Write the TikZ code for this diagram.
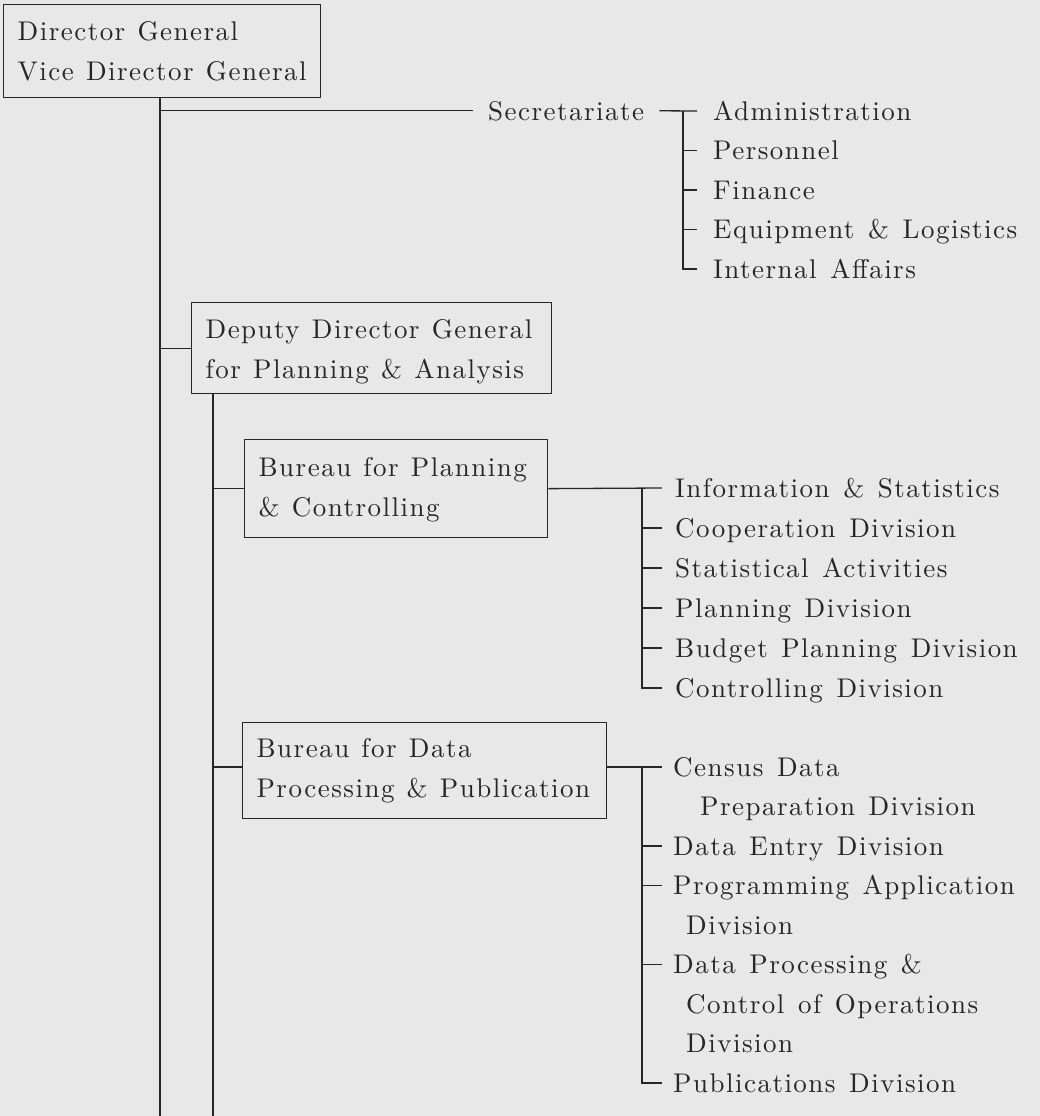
\documentclass[tikz,border=0pt]{standalone}
\usepackage{fontspec}
\setmainfont{lmroman10-regular.otf}[LetterSpace=5.5,WordSpace=1.3]
\definecolor{ink}{RGB}{38,38,38}
\definecolor{paper}{RGB}{232,232,232}
\tikzset{
  every node/.style={font=\fontsize{27}{40}\selectfont, text=ink},
  box/.style={draw=ink, line width=1.3pt, align=left, inner xsep=14pt, inner ysep=0pt, anchor=north west,
    execute at begin node={\spaceskip=12.2pt plus 2pt minus 1pt}},
  leaf/.style={anchor=base west, inner sep=0pt, align=left, font=\fontsize{27}{39.5}\selectfont},
  conn/.style={draw=ink, line width=1.3pt},
}
\begin{document}
\begin{tikzpicture}[x=1pt,y=-1pt]
\useasboundingbox (0,0) rectangle (1040,1116);
\fill[paper] (0,0) rectangle (1040,1116);

% boxes
\node[box, text width=289pt, minimum height=93pt] (dg) at (3,4) {\mbox{Director General}\\\mbox{Vice Director General}};
\node[box, text width=332pt, minimum height=91pt] (ddg) at (191,302) {\mbox{\rule{0pt}{26pt}Deputy Director General}\\\mbox{for Planning \& Analysis}};
\node[box, text width=275pt, minimum height=98pt] (b1) at (244,439) {\mbox{\rule{0pt}{22pt}Bureau for Planning}\\\mbox{\& Controlling}};
\node[box, text width=336pt, minimum height=96pt] (b2) at (242,722) {\mbox{Bureau for Data}\\\mbox{Processing \& Publication}};

% secretariate
\node[anchor=base west, inner xsep=15pt, inner ysep=0pt] (secr) at (473,120) {Secretariate};
\node[leaf] (adm) at (713,120) {Administration};
\node[leaf] (pers) at (713,159.5) {Personnel};
\node[leaf] (fin) at (713,199) {Finance};
\node[leaf] (equip) at (713,238.5) {Equipment \& Logistics};
\node[leaf] (intaff) at (713,278) {Internal Affairs};

% bureau 1 divisions
\node[leaf] (info) at (675,497) {Information \& Statistics};
\node[leaf] (coop) at (675,537) {Cooperation Division};
\node[leaf] (stat) at (675,577) {Statistical Activities};
\node[leaf] (plan) at (675,617) {Planning Division};
\node[leaf] (budg) at (675,657) {Budget Planning Division};
\node[leaf] (ctrl) at (675,697) {Controlling Division};

% bureau 2 divisions (base anchor = baseline of the last line)
\node[leaf] (census) at (673,815.5) {Census Data\\\hspace*{27pt}Preparation Division};
\node[leaf] (dentry) at (673,855) {Data Entry Division};
\node[leaf] (prog) at (673,934) {Programming Application\\\hspace*{13pt}Division};
\node[leaf] (dproc) at (673,1052.5) {Data Processing \&\\\hspace*{13pt}Control of Operations\\\hspace*{13pt}Division};
\node[leaf] (pub) at (673,1092) {Publications Division};

% bus coordinates
\coordinate (mainend) at (160,1116);
\coordinate (ddgend) at (213,1116);
\coordinate (secbus) at (683,111);
\coordinate (b1bus) at (642,488);
\coordinate (b2bus) at (642,767);
\foreach \n in {adm,pers,fin,equip,intaff,info,coop,stat,plan,budg,ctrl,dentry,pub}
  \coordinate (c\n) at ([yshift=9pt]\n.base west);
\coordinate (ccensus) at ([yshift=48.5pt]census.base west);
\coordinate (cprog) at ([yshift=48.5pt]prog.base west);
\coordinate (cdproc) at ([yshift=88pt]dproc.base west);

% main trunk
\draw[conn] (dg.south -| mainend) -- (mainend);
\draw[conn] (secr.west -| mainend) -- (secr.west);
\draw[conn] (mainend |- ddg.west) -- (ddg.west);

% secretariate bracket
\draw[conn] (secr.east) -- ([xshift=-16pt]cadm);
\draw[conn] (cadm -| secbus) -- (cintaff -| secbus) -- ([xshift=-16pt]cintaff);
\foreach \n in {pers,fin,equip}
  \draw[conn] (c\n -| secbus) -- ([xshift=-16pt]c\n);

% deputy trunk
\draw[conn] (ddg.south -| ddgend) -- (ddgend);
\draw[conn] (ddgend |- b1.west) -- (b1.west);
\draw[conn] (ddgend |- ccensus) -- (b2.west |- ccensus);

% bureau 1 bracket
\draw[conn] (b1.east) -- ([xshift=-13pt]cinfo);
\draw[conn] (cinfo -| b1bus) -- (cctrl -| b1bus) -- ([xshift=-13pt]cctrl);
\foreach \n in {coop,stat,plan,budg}
  \draw[conn] (c\n -| b1bus) -- ([xshift=-13pt]c\n);

% bureau 2 bracket
\draw[conn] (b2.east |- ccensus) -- ([xshift=-11pt]ccensus);
\draw[conn] (ccensus -| b2bus) -- (cpub -| b2bus) -- ([xshift=-11pt]cpub);
\foreach \n in {dentry,prog,dproc}
  \draw[conn] (c\n -| b2bus) -- ([xshift=-11pt]c\n);
\end{tikzpicture}
\end{document}
